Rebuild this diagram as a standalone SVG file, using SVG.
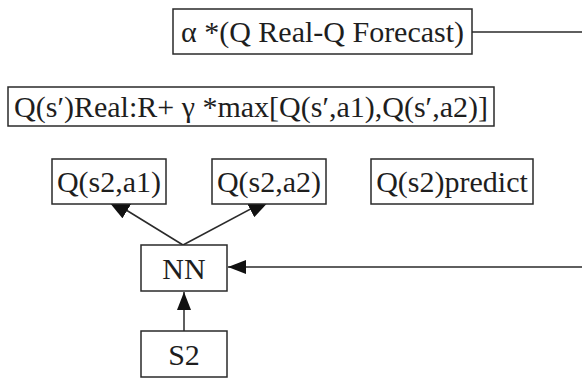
<svg xmlns="http://www.w3.org/2000/svg" width="582" height="382" viewBox="0 0 582 382">
  <style>
    .box { fill: #ffffff; stroke: #2a2a2a; stroke-width: 1.5; }
    .lbl { font-size: 30px; fill: #1e1e1e; text-anchor: middle; }
    .edge { fill: none; stroke: #2a2a2a; stroke-width: 1.5; }
  </style>
  <defs>
    <marker id="head" markerUnits="userSpaceOnUse" markerWidth="18" markerHeight="14" refX="18" refY="7" orient="auto">
      <path d="M0,0 L18,7 L0,14 z" fill="#111111"/>
    </marker>
    <marker id="headBig" markerUnits="userSpaceOnUse" markerWidth="26" markerHeight="18" refX="26" refY="9" orient="auto">
      <path d="M0,0 L26,9 L0,18 z" fill="#111111"/>
    </marker>
  </defs>

  <!-- connectors drawn first so node fills cover the arrow tips -->
  <g id="connectors">
    <line class="edge" x1="472" y1="32" x2="582" y2="32"/>
    <line class="edge" x1="183" y1="245" x2="105" y2="197" marker-end="url(#headBig)"/>
    <line class="edge" x1="183" y1="245" x2="273" y2="197" marker-end="url(#headBig)"/>
    <line class="edge" x1="582" y1="267" x2="228" y2="267" marker-end="url(#head)"/>
    <line class="edge" x1="184" y1="331" x2="184" y2="292" marker-end="url(#head)"/>
  </g>

  <g font-family="Liberation Serif, Times New Roman, Tinos, Noto Serif, DejaVu Serif, serif">
    <g id="update">
      <rect class="box" x="173" y="9" width="299" height="45"/>
      <text class="lbl" x="322.5" y="42">α *(Q Real-Q Forecast)</text>
    </g>

    <g id="target">
      <rect class="box" x="8" y="87" width="486" height="39"/>
      <text class="lbl" x="251" y="117">Q(s′)Real:R+ γ *max[Q(s′,a1),Q(s′,a2)]</text>
    </g>

    <g id="q-a1">
      <rect class="box" x="52" y="159" width="114" height="45"/>
      <text class="lbl" x="109" y="192">Q(s2,a1)</text>
    </g>

    <g id="q-a2">
      <rect class="box" x="212" y="159" width="114" height="45"/>
      <text class="lbl" x="269" y="192">Q(s2,a2)</text>
    </g>

    <g id="q-predict">
      <rect class="box" x="371" y="159" width="162" height="45"/>
      <text class="lbl" x="452" y="192">Q(s2)predict</text>
    </g>

    <g id="nn">
      <rect class="box" x="141" y="245" width="86" height="46"/>
      <text class="lbl" x="184" y="279">NN</text>
    </g>

    <g id="s2">
      <rect class="box" x="141" y="331" width="86" height="46"/>
      <text class="lbl" x="184" y="365">S2</text>
    </g>
  </g>
</svg>
